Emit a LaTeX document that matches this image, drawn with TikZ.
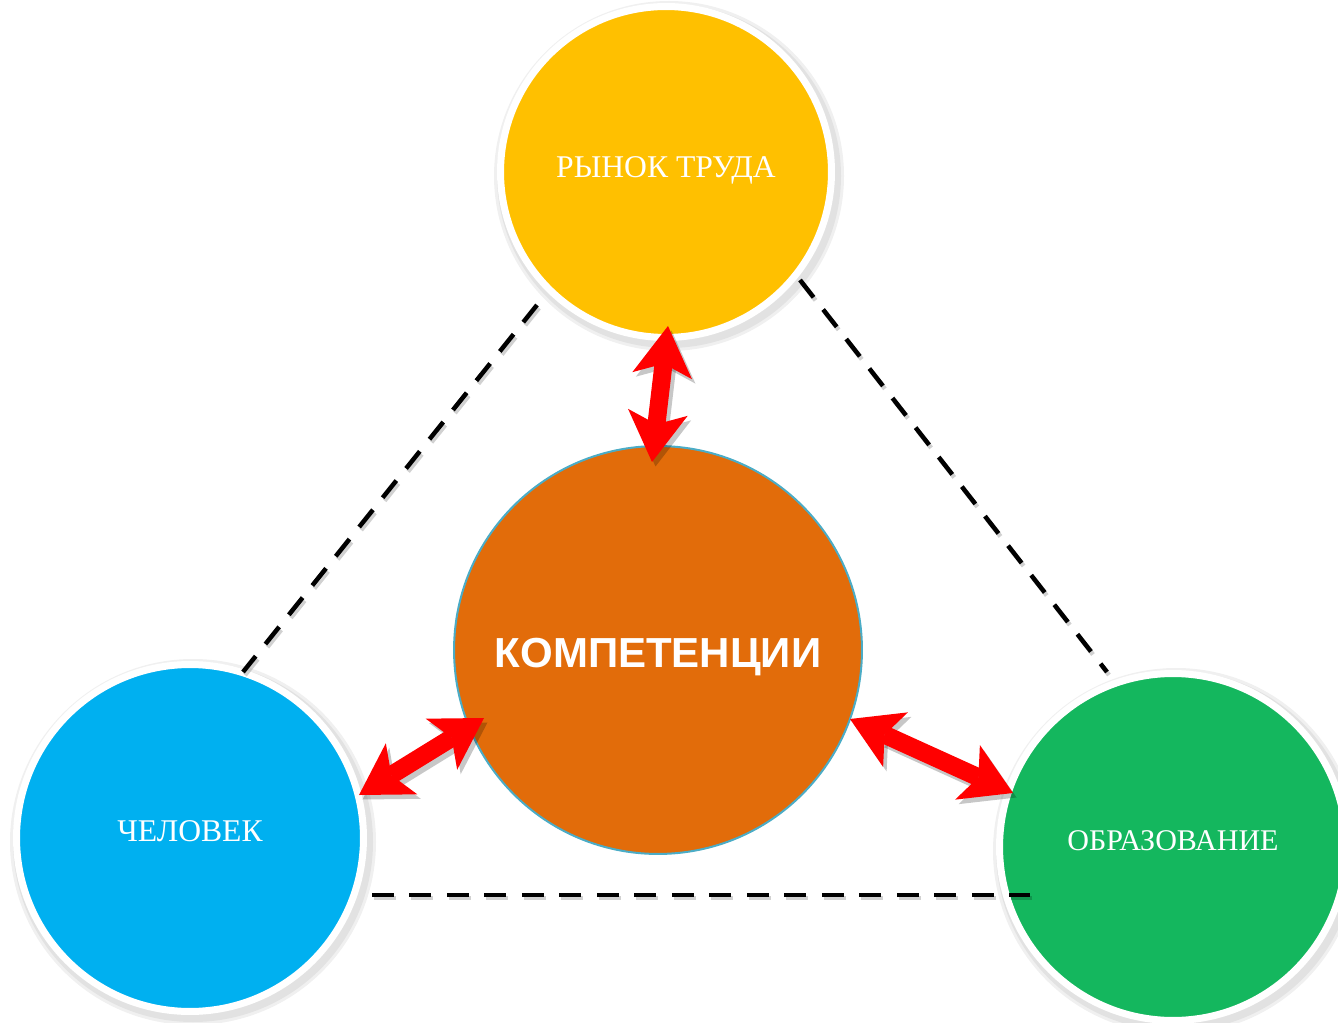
\documentclass[tikz,border=0pt]{standalone}
\usepackage{fontspec}
\setmainfont{Liberation Serif}
\newfontfamily\boldsans{Liberation Sans}
\usetikzlibrary{arrows.meta}
\definecolor{cyellow}{HTML}{FFC000}
\definecolor{cblue}{HTML}{00B0F0}
\definecolor{cgreen}{HTML}{14B75E}
\definecolor{corange}{HTML}{E26C0A}
\definecolor{cedge}{HTML}{4BACC6}
\begin{document}
\begin{tikzpicture}[x=0.02cm,y=-0.02cm,
  ball/.style={circle, draw=white, line width=0.14cm, inner sep=0pt},
  shade1/.style={circle, fill=black, opacity=0.06, inner sep=0pt},
  lab/.style={text=white, anchor=base, inner sep=0pt, font=\fontsize{18}{20}\selectfont},
  dline/.style={line width=0.09cm, dash pattern=on 0.44cm off 0.31cm},
  redarrow/.style={draw=red, line width=0.36cm,
     {Stealth[length=1.0cm,width=1.2cm,inset=0.24cm,line width=0pt]}-{Stealth[length=1.0cm,width=1.2cm,inset=0.24cm,line width=0pt]}},
]
\useasboundingbox (0,0) rectangle (1338,1023);
% soft shadows of the outer circles
\foreach \cx/\cy/\r in {666/172/175, 190/838/183, 1173/847/183}{
  \node[shade1, minimum size=2*\r*0.02cm] at (\cx+3,\cy+4) {};
  \node[shade1, minimum size=2*(\r-3)*0.02cm] at (\cx+3,\cy+4) {};
}
% circles
\node[ball, fill=cyellow, minimum size=6.62cm] (top) at (666,172) {};
\node[ball, fill=cblue, minimum size=6.94cm] (left) at (190,838) {};
\node[ball, fill=cgreen, minimum size=6.94cm] (right) at (1173,847) {};
\node[circle, draw=cedge, line width=0.04cm, fill=corange, inner sep=0pt, minimum size=8.16cm] (comp) at (658,650) {};
% labels
\node[lab] (ltop) at (666,178) {РЫНОК ТРУДА};
\node[lab] (lleft) at (190,841) {ЧЕЛОВЕК};
\node[lab, font=\fontsize{17.1}{20}\selectfont] (lright) at (1173,850) {ОБРАЗОВАНИЕ};
\node[lab, font=\boldsans\bfseries\fontsize{23.9}{28}\selectfont] (lcomp) at (658,667) {КОМПЕТЕНЦИИ};
% dashed lines
\coordinate (d1a) at (537,305); \coordinate (d1b) at (243,672);
\coordinate (d2a) at (800,280); \coordinate (d2b) at (1107,672);
\coordinate (d3a) at (372,895); \coordinate (d3b) at (1030,895);
\begin{scope}[transform canvas={xshift=0.04cm,yshift=-0.06cm}]
\draw[dline, black, opacity=0.18] (d1a) -- (d1b);
\draw[dline, black, opacity=0.18] (d2a) -- (d2b);
\draw[dline, black, opacity=0.18] (d3a) -- (d3b);
\end{scope}
\draw[dline] (d1a) -- (d1b);
\draw[dline] (d2a) -- (d2b);
\draw[dline] (d3a) -- (d3b);
% arrow ends
\coordinate (a1) at (668,326); \coordinate (a2) at (652,462);
\coordinate (b1) at (359,795); \coordinate (b2) at (484,718);
\coordinate (c1) at (850,719); \coordinate (c2) at (1013,793);
\begin{scope}[transform canvas={xshift=0.07cm,yshift=-0.09cm}]
\draw[redarrow, draw=black, opacity=0.22] (a1) -- (a2);
\draw[redarrow, draw=black, opacity=0.22] (b1) -- (b2);
\draw[redarrow, draw=black, opacity=0.22] (c1) -- (c2);
\end{scope}
\draw[redarrow] (a1) -- (a2);
\draw[redarrow] (b1) -- (b2);
\draw[redarrow] (c1) -- (c2);
\end{tikzpicture}
\end{document}
